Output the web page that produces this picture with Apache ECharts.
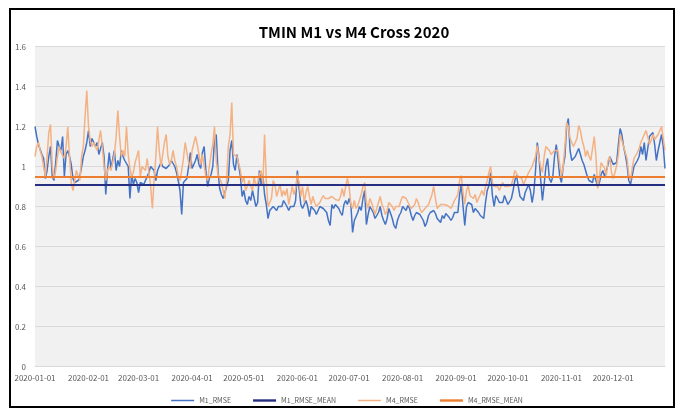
<!DOCTYPE html>
<html>
<head>
<meta charset="utf-8">
<script src="https://cdn.jsdelivr.net/npm/echarts@6/dist/echarts.min.js"></script>
<style>html,body{margin:0;padding:0;background:#fff;}#c{width:694px;height:413px;}</style>
</head>
<body>
<div id="c"></div>
<script>
// ---- data ----
const YEAR = 2020;
const monthTickLabels = ['2020-01-01','2020-02-01','2020-03-01','2020-04-01','2020-05-01','2020-06-01','2020-07-01','2020-08-01','2020-09-01','2020-10-01','2020-11-01','2020-12-01'];

// M1_RMSE, daily, by quarter
const m1Q1 = [1.20,1.15,1.11,1.10,1.06,1.04,0.94,0.98,1.05,1.10,
0.95,0.93,1.02,1.13,1.10,1.08,1.15,0.95,1.06,1.08,
1.05,1.01,0.94,0.92,0.91,0.93,0.95,1.00,1.05,1.08,
1.12,1.18,1.10,1.14,1.13,1.10,1.12,1.06,1.09,1.12,
1.05,0.86,0.98,1.07,0.99,1.00,1.08,0.98,1.03,1.00,
1.08,1.05,1.03,1.02,1.00,0.84,0.96,0.91,0.94,0.92,
0.87,0.92,0.93,0.91,0.93,0.95,0.97,1.00,1.01,0.98,
0.93,0.98,1.00,1.02,1.00,1.00,0.99,0.98,1.01,1.03,
1.02,1.00,0.97,0.93,0.88,0.76,0.92,0.91,0.94,1.00,
1.07,0.99];
const m1Q2 = [1.00,1.03,1.06,1.01,0.99,1.07,1.10,0.98,
0.90,0.94,0.96,1.00,1.13,1.16,0.98,0.89,0.86,0.84,
0.83,0.90,0.93,1.08,1.13,1.01,0.98,1.06,1.06,0.95,
0.85,0.88,0.83,0.81,0.85,0.83,0.88,0.87,0.80,0.82,
0.98,0.91,0.96,0.86,0.81,0.74,0.78,0.79,0.80,0.80,
0.78,0.80,0.79,0.80,0.83,0.82,0.80,0.78,0.80,0.80,
0.80,0.83,0.98,0.89,0.81,0.79,0.78,0.83,0.80,0.75,
0.80,0.79,0.78,0.76,0.755,0.80,0.81,0.79,0.78,0.77,
0.73,0.705,0.81,0.79,0.81,0.82,0.79,0.77,0.755,0.81,
0.83,0.81,0.84,0.81];
const m1Q3 = [0.67,0.73,0.75,0.77,0.80,0.78,
0.84,0.88,0.71,0.76,0.80,0.79,0.77,0.74,0.73,0.77,
0.80,0.755,0.73,0.71,0.74,0.79,0.79,0.74,0.705,0.69,
0.73,0.755,0.77,0.80,0.79,0.78,0.805,0.79,0.755,0.73,
0.755,0.77,0.77,0.76,0.745,0.73,0.70,0.72,0.755,0.77,
0.78,0.78,0.765,0.74,0.73,0.72,0.755,0.74,0.765,0.755,
0.745,0.73,0.745,0.77,0.78,0.77,0.86,0.91,0.80,0.705,
0.80,0.82,0.83,0.81,0.77,0.79,0.79,0.77,0.755,0.745,
0.74,0.82,0.88,0.905,0.97,0.855,0.80,0.855,0.84,0.82,
0.81,0.82,0.855,0.85];
const m1Q4 = [0.81,0.805,0.84,0.88,0.93,0.955,
0.90,0.85,0.84,0.83,0.87,0.89,0.91,0.88,0.82,0.87,
0.98,1.12,1.05,0.93,0.83,0.91,1.00,1.04,0.94,0.92,
0.95,1.05,1.11,1.04,0.95,0.92,1.00,1.05,1.20,1.24,
1.08,1.03,1.04,1.05,1.07,1.09,1.08,1.03,1.01,1.00,
0.95,0.93,0.94,0.92,0.96,0.93,0.90,0.92,0.96,0.98,
0.95,0.96,1.01,1.05,1.03,1.01,1.01,1.02,1.11,1.19,
1.16,1.10,1.06,1.01,0.93,0.91,0.955,1.00,1.01,1.03,
1.05,1.10,1.06,1.12,1.03,1.09,1.15,1.14,1.17,1.11,
1.03,1.08,1.12,1.16,1.10,0.99];

// M4_RMSE, daily, by quarter
const m4Q1 = [1.05,1.10,1.12,1.08,1.05,1.00,0.95,1.05,1.17,1.21,
1.00,0.94,0.98,1.05,1.10,1.07,1.06,1.04,1.10,1.20,
1.05,0.92,0.88,0.93,0.98,0.95,0.93,1.05,1.10,1.25,
1.38,1.20,1.13,1.10,1.12,1.10,1.08,1.13,1.18,1.10,
1.00,0.93,0.98,1.00,0.98,1.02,1.06,1.15,1.28,1.15,
1.05,1.08,1.05,1.20,1.06,0.99,0.95,0.97,1.02,1.03,
1.08,0.95,1.00,0.99,0.98,1.04,0.97,0.90,0.79,0.93,
1.05,1.20,1.08,1.00,1.06,1.12,1.16,1.05,1.01,1.03,
1.08,1.03,1.00,0.95,0.93,0.98,1.04,1.12,1.07,1.02,
0.99,1.08];
const m4Q2 = [1.08,1.15,1.11,1.06,1.01,1.06,1.05,0.95,
0.93,1.00,1.06,1.11,1.20,1.03,0.96,0.95,0.92,0.88,
0.84,0.93,1.10,1.16,1.32,1.06,1.07,1.05,1.05,0.98,
0.92,0.95,0.88,0.90,0.93,0.90,0.88,0.95,0.90,0.92,
0.96,0.98,0.91,1.16,0.93,0.80,0.81,0.84,0.93,0.91,
0.85,0.85,0.91,0.85,0.88,0.855,0.89,0.81,0.855,0.90,
0.86,0.89,0.96,0.92,0.85,0.90,0.82,0.87,0.90,0.85,
0.81,0.85,0.82,0.80,0.80,0.82,0.83,0.855,0.84,0.85,
0.84,0.83,0.85,0.84,0.835,0.83,0.83,0.85,0.89,0.85,
0.90,0.94,0.90,0.81];
const m4Q3 = [0.79,0.83,0.79,0.805,0.81,0.86,
0.90,0.92,0.82,0.79,0.84,0.82,0.81,0.76,0.76,0.82,
0.85,0.81,0.79,0.76,0.78,0.82,0.81,0.80,0.78,0.80,
0.80,0.80,0.83,0.85,0.84,0.84,0.83,0.805,0.79,0.79,
0.81,0.84,0.82,0.79,0.77,0.78,0.79,0.80,0.81,0.805,
0.86,0.90,0.84,0.79,0.79,0.81,0.82,0.81,0.81,0.805,
0.80,0.79,0.80,0.83,0.825,0.86,0.93,0.955,0.87,0.81,
0.88,0.905,0.855,0.86,0.84,0.86,0.82,0.84,0.86,0.88,
0.855,0.90,0.93,0.97,1.00,0.92,0.90,0.905,0.90,0.88,
0.90,0.92,0.90,0.91];
const m4Q4 = [0.90,0.89,0.905,0.94,0.98,0.97,
0.95,0.96,0.94,0.91,0.92,0.95,0.97,0.985,1.00,1.01,
1.05,1.105,1.04,1.00,0.97,1.05,1.10,1.11,1.08,1.06,
1.05,1.08,1.085,1.08,1.01,0.955,1.00,1.10,1.22,1.20,
1.14,1.12,1.10,1.10,1.14,1.205,1.18,1.13,1.10,1.05,
1.08,1.05,1.03,1.04,1.15,1.05,0.89,0.95,1.02,1.03,
0.99,0.955,1.03,1.05,0.97,0.94,0.97,1.005,1.06,1.16,
1.13,1.10,1.09,1.04,0.96,0.93,0.99,1.04,1.05,1.07,
1.09,1.12,1.11,1.16,1.18,1.15,1.11,1.13,1.16,1.135,
1.13,1.16,1.15,1.20,1.14,1.08];

const m1Mean = 0.91;
const m4Mean = 0.955;

// ---- build ----
const dates = [];
for (let d = new Date(Date.UTC(YEAR,0,1)); d.getUTCFullYear() === YEAR; d.setUTCDate(d.getUTCDate()+1)) {
  dates.push(d.toISOString().slice(0,10));
}
const m1 = m1Q1.concat(m1Q2, m1Q3, m1Q4);
const m4 = m4Q1.concat(m4Q2, m4Q3, m4Q4);

const FONT = '"Noto Sans CJK KR", "Noto Sans", sans-serif';
const THIN = 'path://M0,0H46V3H0Z';
const THICK = 'path://M0,0H23V2.4H0Z';
const chart = echarts.init(document.getElementById('c'), null, {renderer: 'canvas'});
chart.setOption({
  animation: false,
  backgroundColor: '#ffffff',
  textStyle: {fontFamily: FONT},
  title: {
    text: 'TMIN M1 vs M4 Cross 2020',
    left: 349, top: 20, textAlign: 'center',
    textStyle: {fontFamily: FONT, fontSize: 15, fontWeight: 'bold', color: '#000'}
  },
  graphic: [{
    type: 'rect', shape: {x: 10, y: 9, width: 664, height: 398},
    style: {fill: 'none', stroke: '#000', lineWidth: 2}, silent: true, z: 100
  }],
  grid: {left: 35, right: 29, top: 46.5, bottom: 46.5, show: true, backgroundColor: '#f1f1f1', borderWidth: 0},
  legend: {
    top: 391, left: 'center',
    itemWidth: 23, itemHeight: 3, itemGap: 22,
    textStyle: {fontFamily: FONT, fontSize: 7, color: '#595959', lineHeight: 9},
    data: [
      {name: 'M1_RMSE', icon: THIN},
      {name: 'M1_RMSE_MEAN', icon: THICK},
      {name: 'M4_RMSE', icon: THIN},
      {name: 'M4_RMSE_MEAN', icon: THICK}
    ]
  },
  xAxis: {
    type: 'category', data: dates, boundaryGap: false,
    axisLine: {lineStyle: {color: '#d9d9d9'}},
    axisTick: {show: false},
    axisLabel: {
      interval: (i, v) => monthTickLabels.indexOf(v) >= 0,
      fontSize: 8, color: '#595959', margin: 7, fontFamily: FONT
    },
    splitLine: {show: false}
  },
  yAxis: {
    type: 'value', min: 0, max: 1.6, interval: 0.2,
    axisLine: {show: false}, axisTick: {show: false},
    axisLabel: {fontSize: 8, color: '#595959', margin: 9, fontFamily: FONT},
    splitLine: {lineStyle: {color: '#dadada', width: 1}}
  },
  series: [
    {name: 'M1_RMSE', type: 'line', data: m1, symbol: 'none', color: '#4472C4', lineStyle: {width: 1.5, color: '#4472C4'}},
    {name: 'M1_RMSE_MEAN', type: 'line', data: [], symbol: 'none', color: '#262F82', lineStyle: {width: 2, color: '#262F82'},
      markLine: {silent: true, symbol: ['none','none'], label: {show: false}, lineStyle: {type: 'solid', width: 2, color: '#262F82'}, data: [{yAxis: m1Mean}]}},
    {name: 'M4_RMSE', type: 'line', data: m4, symbol: 'none', color: '#F4B183', lineStyle: {width: 1.5, color: '#F4B183'}},
    {name: 'M4_RMSE_MEAN', type: 'line', data: [], symbol: 'none', color: '#ED7D31', lineStyle: {width: 2, color: '#ED7D31'},
      markLine: {silent: true, symbol: ['none','none'], label: {show: false}, lineStyle: {type: 'solid', width: 2, color: '#ED7D31'}, data: [{yAxis: m4Mean}]}}
  ]
});
</script>
</body>
</html>
